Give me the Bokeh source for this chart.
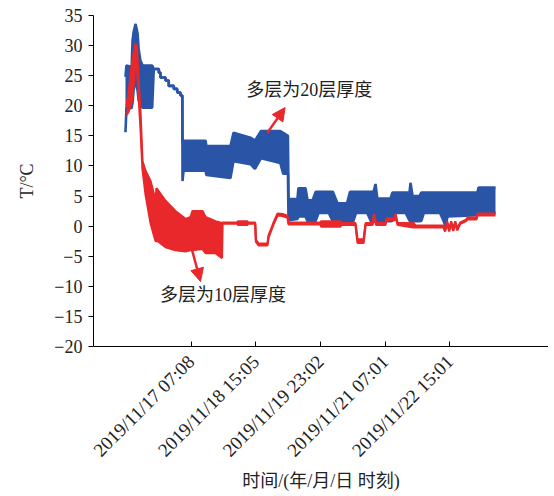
import math
from bokeh.plotting import figure
from bokeh.models import FixedTicker, Arrow, NormalHead, Range1d
from bokeh.core.properties import value
from bokeh.embed import file_html
from bokeh.resources import INLINE

# time axis in hours relative to 2019/11/17 07:08
tick_hours = [0.0, 31.95, 63.9, 95.883, 127.883]
tick_labels = ["2019/11/17 07:08", "2019/11/18 15:05", "2019/11/19 23:02",
               "2019/11/21 07:01", "2019/11/22 15:01"]
y_ticks = [-20, -15, -10, -5, 0, 5, 10, 15, 20, 25, 30, 35]
y_tick_labels = ["\u221220", "\u221215", "\u221210", "\u22125", "0", "5", "10",
                 "15", "20", "25", "30", "35"]

# 20-layer series (blue): time, upper envelope, lower envelope (deg C)
blue_t = [-32.5, -32.0, -30.0, -29.6, -29.3, -29.0, -28.5, -27.5, -26.5, -26.0, -25.1, -24.0,
          -19.3, -18.5, -16.0, -16.0, -15.2, -15.2, -12.7, -12.7, -11.1, -11.1, -8.6, -8.6,
          -6.9, -6.9, -5.3, -5.3, -4.4, -4.3, -3.8, 7.1, 7.5, 19.4, 20.9, 29.3, 31.5, 34.5,
          44.0, 45.5, 47.8, 48.1,
          52.5, 53.0, 56.5, 57.5, 60.0, 61.5, 63.0, 68.0, 70.0, 72.3, 77.0,
          78.5, 80.0, 81.5, 87.0, 89.0, 90.1, 91.1, 92.0, 98.5, 99.5, 101.0, 106.0,
          107.9, 108.4, 109.4, 112.8, 113.8, 115.0, 123.0, 124.7,
          125.7, 126.7, 141.5, 142.0, 150.4]
blue_hi = [24.8, 26.7, 26.5, 21.5, 28.0, 30.8, 32.2, 33.6, 32.0, 29.5, 27.5, 26.7,
           26.7, 26.1, 26.1, 25.5, 25.5, 24.7, 24.7, 24.2, 24.2, 23.3, 23.3, 22.8,
           22.8, 22.2, 22.2, 21.7, 21.7, 13.9, 14.2, 14.2, 13.3, 13.3, 15.5, 14.7, 14.2, 15.8,
           15.8, 15.5, 15.0, 4.5,
           4.5, 6.3, 6.3, 4.3, 4.3, 5.7, 5.7, 5.7, 5.7, 3.8, 3.8,
           5.7, 5.7, 5.7, 5.7, 5.7, 5.7, 7.0, 4.6, 4.6, 5.6, 5.6, 5.6,
           5.6, 7.2, 5.0, 5.0, 5.6, 5.6, 5.6, 5.6,
           5.6, 5.6, 5.6, 6.4, 6.4]
blue_lo = [15.6, 19.7, 19.7, 19.5, 20.0, 20.5, 22.5, 24.5, 22.5, 21.0, 20.0, 19.7,
           19.7, 26.1, 26.1, 25.5, 25.5, 24.7, 24.7, 24.2, 24.2, 23.3, 23.3, 22.8,
           22.8, 22.2, 22.2, 21.7, 21.7, 7.5, 9.2, 9.2, 8.5, 8.0, 10.8, 10.3, 9.5, 11.3,
           10.5, 8.7, 8.7, 1.0,
           1.2, 1.6, 1.6, 0.8, 0.8, 0.9, 2.2, 2.2, 0.8, 0.4, 0.4,
           0.6, 0.7, 2.2, 2.2, 0.7, 0.7, 0.8, 0.8, 0.8, 0.9, 2.2, 2.2,
           0.9, 0.9, 0.8, 0.8, 0.9, 2.2, 2.2, 0.9,
           0.0, 1.6, 1.8, 2.2, 2.2]

# 10-layer series (red): time, upper envelope, lower envelope (deg C)
red_t = [-32.0, -31.0, -29.5, -28.3, -27.5, -26.8, -26.0, -25.1, -24.1, -22.6, -20.1,
         -17.6, -17.2, -16.5, -12.7, -7.8, -2.8, -0.3, 0.6, 5.6, 7.1, 12.0, 15.2, 15.5,
         22.9, 23.0, 27.8, 28.0, 31.6, 32.0, 33.3, 37.7, 38.2, 40.7, 42.7, 45.1, 47.6,
         48.1, 63.9, 64.2, 73.8, 74.0, 81.2, 82.2, 85.2, 86.2, 89.6, 90.4, 91.4, 96.0,
         96.5, 100.5, 101.0, 102.0, 109.9, 110.9, 124.7, 125.5, 126.5, 127.5, 128.5,
         129.5, 130.5, 131.5, 133.0, 135.6, 136.6, 141.0, 141.5, 150.4]
red_hi = [20.0, 22.0, 26.5, 29.0, 30.3, 29.7, 24.2, 19.2, 10.8, 9.2, 7.5,
          4.2, 6.3, 6.0, 4.2, 2.5, 1.2, 1.5, 2.5, 2.5, 1.5, 0.8, 0.5, 0.6,
          0.6, 0.8, 0.8, 0.6, 0.6, -2.3, -2.9, -2.9, -1.6, 0.6, 2.1, 2.0, 1.7,
          0.6, 0.6, 0.8, 0.8, 0.5, 0.5, -2.2, -2.2, 0.5, 0.5, 2.0, 0.5, 0.5,
          1.3, 1.3, 2.0, 0.5, 0.5, 0.1, 0.1, -0.6, 0.8, -0.6, 0.8,
          -0.5, 0.8, -0.4, 0.6, 1.0, 1.4, 1.4, 2.1, 2.1]
red_lo = [18.5, 19.0, 20.5, 24.0, 27.5, 26.5, 21.5, 16.5, 9.5, 5.3, 0.5,
          -2.5, -2.5, -2.5, -3.5, -4.0, -4.2, -4.0, -4.0, -3.8, -4.5, -4.5, -5.3, 0.4,
          0.4, 0.2, 0.2, 0.4, 0.4, -2.6, -3.2, -3.2, -1.9, 0.3, 1.8, 1.7, 1.4,
          0.3, 0.3, -0.1, -0.1, 0.2, 0.2, -2.8, -2.8, 0.2, 0.2, 1.6, 0.2, 0.2,
          1.0, 1.0, 1.7, 0.2, -0.2, -0.2, -0.2, -0.9, 0.5, -0.9, 0.5,
          -0.8, 0.5, -0.7, 0.4, 0.8, 1.1, 1.1, 1.8, 1.8]

# annotations
ann_text = ["多层为20层厚度", "多层为10层厚度"]
ann_x = [27.2, -15.4]
ann_y = [22.6, -11.4]
arrow_x0 = [37.6, -0.35]
arrow_y0 = [15.5, -3.0]
arrow_x1 = [46.4, 4.6]
arrow_y1 = [19.7, -9.2]

BLUE = "#2a55a6"
RED = "#e8282b"
TXT = "#222222"
SERIF = "Liberation Serif, Noto Sans CJK SC"

p = figure(width=548, height=494, output_backend="svg", toolbar_location=None,
           x_range=Range1d(-48.3, 176.6), y_range=Range1d(-20, 35),
           min_border_left=93, min_border_right=0, min_border_top=15,
           min_border_bottom=148)
p.outline_line_color = None
p.grid.visible = False

p.varea(x=blue_t, y1=blue_lo, y2=blue_hi, fill_color=BLUE)
p.line(blue_t, blue_hi, line_color=BLUE, line_width=2.6)
p.line(blue_t, blue_lo, line_color=BLUE, line_width=2.6)

p.varea(x=red_t, y1=red_lo, y2=red_hi, fill_color=RED)
p.line(red_t, red_hi, line_color=RED, line_width=2.2)
p.line(red_t, red_lo, line_color=RED, line_width=2.2)

for i in range(2):
    p.add_layout(Arrow(end=NormalHead(size=13, fill_color=RED, line_color=RED),
                       x_start=arrow_x0[i], y_start=arrow_y0[i],
                       x_end=arrow_x1[i], y_end=arrow_y1[i],
                       line_color=RED, line_width=2.5))

p.text(x=ann_x, y=ann_y, text=ann_text, text_font=value(SERIF),
       text_font_size="18px", text_baseline="middle", text_align="left",
       text_color=TXT)

xa = p.xaxis[0]
xa.ticker = FixedTicker(ticks=tick_hours)
xa.major_label_overrides = dict(zip(tick_hours, tick_labels))
xa.major_label_orientation = math.pi / 4
xa.major_label_text_font = SERIF
xa.major_label_text_font_size = "19px"
xa.major_label_text_color = TXT
xa.major_label_standoff = 12
xa.major_tick_in = 5
xa.major_tick_out = 0
xa.minor_tick_line_color = None
xa.axis_line_color = "black"
xa.major_tick_line_color = "black"
xa.axis_label = "时间/(年/月/日 时刻)"
xa.axis_label_text_font = SERIF
xa.axis_label_text_font_size = "18px"
xa.axis_label_text_font_style = "normal"
xa.axis_label_text_color = TXT
xa.axis_label_standoff = 0

ya = p.yaxis[0]
ya.ticker = FixedTicker(ticks=y_ticks)
ya.major_label_overrides = dict(zip(y_ticks, y_tick_labels))
ya.major_label_text_font = SERIF
ya.major_label_text_font_size = "18px"
ya.major_label_text_color = TXT
ya.major_tick_in = 0
ya.major_tick_out = 5
ya.major_label_standoff = 6
ya.minor_tick_line_color = None
ya.axis_line_color = "black"
ya.major_tick_line_color = "black"
ya.axis_label = "T/°C"
ya.axis_label_text_font = SERIF
ya.axis_label_text_font_size = "18px"
ya.axis_label_text_font_style = "normal"
ya.axis_label_text_color = TXT
ya.axis_label_standoff = 14

open("out.html", "w").write(file_html(p, INLINE))
